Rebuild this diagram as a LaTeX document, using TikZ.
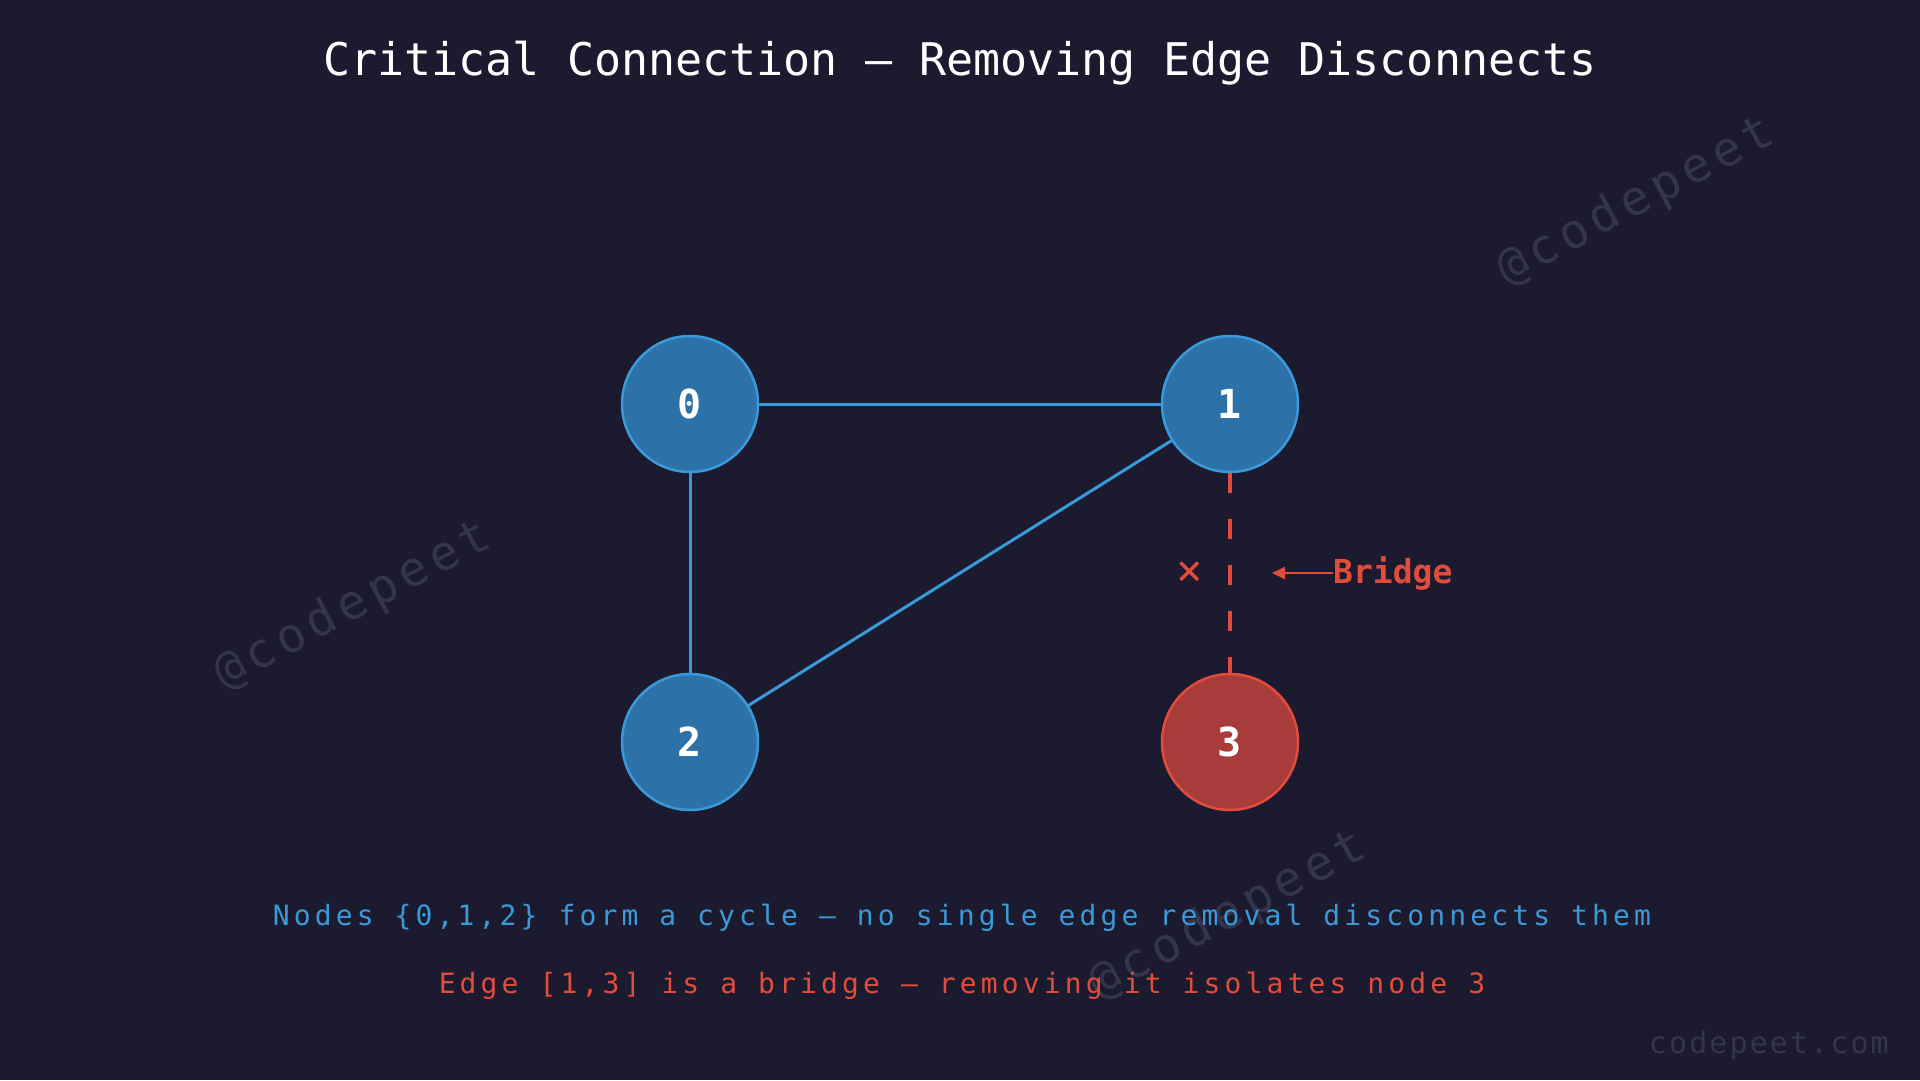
\documentclass[tikz,border=0pt]{standalone}
\usepackage{fontspec}
\setmainfont{DejaVu Sans Mono}
\newfontfamily\spaced[LetterSpace=14.8]{DejaVu Sans Mono}
\newfontfamily\wmfont[LetterSpace=12]{DejaVu Sans Mono}
\newfontfamily\sitefont[LetterSpace=7]{DejaVu Sans Mono}
\usetikzlibrary{arrows.meta}
\definecolor{bg}{HTML}{1B1A2E}
\definecolor{bluefill}{HTML}{2C72A8}
\definecolor{bluestroke}{HTML}{3A9AD9}
\definecolor{redfill}{HTML}{A83C3A}
\definecolor{redstroke}{HTML}{E24C3D}
\definecolor{wm}{HTML}{34344B}
\tikzset{
  gnode/.style={circle, minimum size=136pt, inner sep=0pt, line width=2.5pt,
    font=\bfseries\fontsize{40}{48}\selectfont, text=white},
  bluenode/.style={gnode, draw=bluestroke, fill=bluefill},
  rednode/.style={gnode, draw=redstroke, fill=redfill},
  edge/.style={draw=bluestroke, line width=3pt},
  bridgeedge/.style={draw=redstroke, line width=3.5pt, dash pattern=on 20pt off 26pt},
  watermark/.style={text=wm, font=\wmfont\fontsize{48}{56}\selectfont, rotate=28},
}
\begin{document}
\begin{tikzpicture}[x=1pt,y=-1pt]
\fill[bg] (0,0) rectangle (1920,1080);
\useasboundingbox (0,0) rectangle (1920,1080);

\node[watermark] (wm1) at (1636,202) {@codepeet};
\node[watermark] (wm2) at (353,606) {@codepeet};
\node[watermark] (wm3) at (1228,916) {@codepeet};

\node[anchor=base, text=white, font=\fontsize{45}{54}\selectfont] (title) at (960,75)
  {Critical Connection — Removing Edge Disconnects};

\node[bluenode] (n0) at (690,404) {0};
\node[bluenode] (n1) at (1230,404) {1};
\node[bluenode] (n2) at (690,742) {2};
\node[rednode] (n3) at (1230,742) {3};

\draw[edge] (n0) -- (n1);
\draw[edge] (n0) -- (n2);
\draw[edge] (n1) -- (n2);
\draw[bridgeedge] (n1) -- (n3);

\node[text=redstroke, font=\fontsize{44}{50}\selectfont, inner sep=0pt] (cross) at (1189.5,573.5) {×};

\node[anchor=base west, inner sep=0pt, text=redstroke, font=\bfseries\fontsize{33}{40}\selectfont] (blabel) at (1333,583) {Bridge};
\coordinate (tip) at (1272,573);
\draw[redstroke, line width=2pt, -{Triangle[length=13pt,width=12pt]}] (blabel.west |- tip) -- (tip);

\node[anchor=base, text=bluestroke, font=\spaced\fontsize{28}{33}\selectfont] (line1) at (962,925)
  {Nodes \{0,1,2\} form a cycle — no single edge removal disconnects them};
\node[anchor=base, text=redstroke, font=\spaced\fontsize{28}{33}\selectfont] (line2) at (962,993)
  {Edge [1,3] is a bridge — removing it isolates node 3};

\node[anchor=base east, inner sep=0pt, text=wm, font=\sitefont\fontsize{30}{36}\selectfont] (site) at (1889,1053) {codepeet.com};
\end{tikzpicture}
\end{document}
